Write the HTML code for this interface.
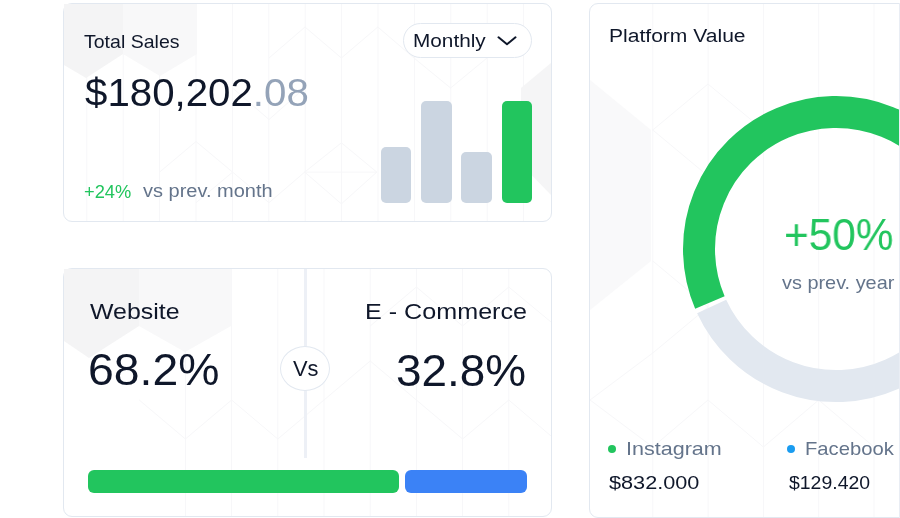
<!DOCTYPE html>
<html>
<head>
<meta charset="utf-8">
<style>
*{margin:0;padding:0;box-sizing:border-box;}
html,body{width:900px;height:518px;overflow:hidden;background:#fff;font-family:"Liberation Sans",sans-serif;color:#0f172a;}
.card{position:absolute;background:#fff;border:1px solid #e2e8f0;border-radius:9px;overflow:hidden;}
#c1{left:63px;top:3px;width:489px;height:219px;}
#c2{left:63px;top:268px;width:489px;height:249px;}
#c3{left:589px;top:3px;width:340px;height:515px;}
.t{position:absolute;white-space:nowrap;line-height:1;transform-origin:left top;will-change:transform;}
.a{position:absolute;}
#clip{position:absolute;left:0;top:0;width:898.5px;height:518px;overflow:hidden;}
</style>
</head>
<body>
<div id="clip">
<div class="card" id="c1"></div>
<div class="card" id="c2"></div>
<div class="card" id="c3"></div>

<!-- faint background pattern -->
<svg class="a" style="left:0;top:0" width="900" height="518" viewBox="0 0 900 518">
  <g fill="none" stroke="#f7f7f9" stroke-width="1">
<line x1="86.8" y1="4" x2="86.8" y2="221"/>
<line x1="123.2" y1="4" x2="123.2" y2="221"/>
<line x1="159.6" y1="4" x2="159.6" y2="221"/>
<line x1="196.0" y1="4" x2="196.0" y2="221"/>
<line x1="232.4" y1="4" x2="232.4" y2="221"/>
<line x1="268.8" y1="4" x2="268.8" y2="221"/>
<line x1="305.2" y1="4" x2="305.2" y2="221"/>
<line x1="341.6" y1="4" x2="341.6" y2="221"/>
<line x1="378.0" y1="4" x2="378.0" y2="221"/>
<line x1="414.4" y1="4" x2="414.4" y2="221"/>
<line x1="450.8" y1="4" x2="450.8" y2="221"/>
<line x1="487.2" y1="4" x2="487.2" y2="221"/>
<line x1="523.6" y1="4" x2="523.6" y2="221"/>
<polyline points="159.6,172.1 196.0,141.5 232.6,172.1 269.0,202.7 304.7,172.1"/>
<polyline points="232.6,172.1 196.0,202.7"/>
<polyline points="304.7,172.1 341.4,142.8 376.8,172.1 341.4,203.9 304.7,172.1 376.8,172.1"/>
<polyline points="232.6,88.0 269.0,119.5 304.7,88.0"/>
<polyline points="269.0,58.0 305.0,27.0 341.4,58.0 377.8,27.0 414.0,58.0"/>
<polyline points="414.0,58.0 450.6,88.0 487.0,58.0"/>
<line x1="185.4" y1="269" x2="185.4" y2="516"/>
<line x1="231.6" y1="269" x2="231.6" y2="516"/>
<line x1="277.8" y1="269" x2="277.8" y2="516"/>
<line x1="324.0" y1="269" x2="324.0" y2="516"/>
<line x1="370.2" y1="269" x2="370.2" y2="516"/>
<line x1="416.4" y1="269" x2="416.4" y2="516"/>
<line x1="462.6" y1="269" x2="462.6" y2="516"/>
<line x1="508.8" y1="269" x2="508.8" y2="516"/>
<polyline points="139.2,400.0 185.4,439.0 231.6,400.0 277.8,439.0 324.0,400.0"/>
<polyline points="370.2,326.0 416.4,287.0 462.6,326.0 508.8,287.0 551.0,322.0"/>
<polyline points="324.0,400.0 370.2,361.0 416.4,400.0 462.6,439.0 508.8,400.0 551.0,436.0"/>
<line x1="652.8" y1="4" x2="652.8" y2="517"/>
<line x1="708.1" y1="4" x2="708.1" y2="517"/>
<line x1="763.4" y1="4" x2="763.4" y2="517"/>
<line x1="818.7" y1="4" x2="818.7" y2="517"/>
<line x1="874.0" y1="4" x2="874.0" y2="517"/>
<polyline points="652.8,130.0 708.0,84.0 763.4,130.0 708.0,176.0 652.8,130.0"/>
<polyline points="652.8,261.0 708.0,307.0 652.8,353.0 590.0,400.0"/>
<polyline points="590.0,400.0 652.8,447.0 708.0,400.0 763.4,447.0 818.7,400.0 874.0,447.0"/>
</g>
  <!-- card1 -->
  <polygon points="64,4 123,4 123,54 86,78 64,65" fill="#f4f4f5"/>
  <polygon points="123,4 197,4 197,54 160,76 123,54" fill="#f8f8f9"/>
  <polygon points="551,63 521,88 521,164 551,195" fill="#f5f5f6"/>
  <!-- card2 -->
  <polygon points="64,269 139,269 139,326 89,358 64,341" fill="#f4f4f5"/>
  <polygon points="139,269 231,269 231,326 185,352 139,326" fill="#f8f8f9"/>
  <!-- card3 -->
  <polygon points="590,80 651,130 651,261 590,310" fill="#f9f9fa"/>
</svg>

<!-- card1 widgets -->
<div class="a" style="left:403px;top:23px;width:129px;height:35px;border:1px solid #e2e8f0;border-radius:17.5px;background:#fff;"></div>
<svg class="a" style="left:495px;top:33px" width="24" height="16" viewBox="0 0 24 16"><polyline points="3.5,4.3 12,11.3 20.5,4.3" fill="none" stroke="#0f172a" stroke-width="2" stroke-linecap="round" stroke-linejoin="round"/></svg>
<div class="a" style="left:380.5px;top:147px;width:30.5px;height:56px;background:#cbd5e1;border-radius:5px;"></div>
<div class="a" style="left:421px;top:101px;width:30.5px;height:102px;background:#cbd5e1;border-radius:5px;"></div>
<div class="a" style="left:461px;top:152px;width:30.5px;height:51px;background:#cbd5e1;border-radius:5px;"></div>
<div class="a" style="left:501.5px;top:101px;width:30.5px;height:102px;background:#22c55e;border-radius:5px;"></div>

<!-- card2 widgets -->
<div class="a" style="left:304px;top:269px;width:3px;height:189px;background:#edf0f6;"></div>
<div class="a" style="left:280px;top:346px;width:50px;height:45px;border:1px solid #e2e8f0;border-radius:50%;background:#fff;"></div>
<div class="a" style="left:88px;top:470px;width:310.5px;height:23px;background:#22c55e;border-radius:6px;"></div>
<div class="a" style="left:405px;top:470px;width:122px;height:23px;background:#3b82f6;border-radius:6px;"></div>

<!-- card3 widgets -->
<svg style="position:absolute;left:0;top:0" width="900" height="518" viewBox="0 0 900 518">
<path d="M 962.11 195.47 A 137 137 0 0 1 711.63 306.46" fill="none" stroke="#e2e8f0" stroke-width="32"/>
<path d="M 709.89 302.53 A 137 137 0 0 1 962.11 195.47" fill="none" stroke="#22c55e" stroke-width="32"/>
</svg>
<div class="a" style="left:608.3px;top:444.7px;width:8px;height:8px;border-radius:50%;background:#22c55e;"></div>
<div class="a" style="left:787px;top:444.8px;width:8px;height:8px;border-radius:50%;background:#1a9cf0;"></div>

<div class="t" style="left:83.56px;top:32.59px;font-size:18.2px;color:#0f172a;transform:scaleX(1.0735);">Total Sales</div>
<div class="t" style="left:85.07px;top:74.45px;font-size:38.1px;color:#0f172a;transform:scaleX(1.0568);">$180,202<span style="color:#94a3b8">.08</span></div>
<div class="t" style="left:83.55px;top:183.09px;font-size:18.2px;color:#22c55e;transform:scaleX(1.0055);">+24%</div>
<div class="t" style="left:142.7px;top:182.49px;font-size:18.8px;color:#64748b;transform:scaleX(1.0647);">vs prev. month</div>
<div class="t" style="left:412.99px;top:31.99px;font-size:18.2px;color:#0f172a;transform:scaleX(1.1419);">Monthly</div>
<div class="t" style="left:90.31px;top:301.22px;font-size:21.6px;color:#0f172a;transform:scaleX(1.1529);">Website</div>
<div class="t" style="left:88.26px;top:348.15px;font-size:44.6px;color:#0f172a;transform:scaleX(1.0387);">68.2%</div>
<div class="t" style="left:364.52px;top:301.15px;font-size:21.2px;color:#0f172a;transform:scaleX(1.1866);">E - Commerce</div>
<div class="t" style="left:395.69px;top:348.93px;font-size:44.5px;color:#0f172a;transform:scaleX(1.0317);">32.8%</div>
<div class="t" style="left:292.95px;top:359.2px;font-size:21.5px;color:#0f172a;transform:scaleX(1.0167);">Vs</div>
<div class="t" style="left:609.32px;top:26.89px;font-size:18.8px;color:#0f172a;transform:scaleX(1.1213);">Platform Value</div>
<div class="t" style="left:783.56px;top:212.51px;font-size:43.7px;color:#22c55e;transform:scaleX(0.9699);">+50%</div>
<div class="t" style="left:781.6px;top:273.32px;font-size:19px;color:#64748b;transform:scaleX(1.0467);">vs prev. year</div>
<div class="t" style="left:625.92px;top:439.12px;font-size:19px;color:#64748b;transform:scaleX(1.1337);">Instagram</div>
<div class="t" style="left:608.91px;top:473.87px;font-size:18.7px;color:#0f172a;transform:scaleX(1.1597);">$832.000</div>
<div class="t" style="left:804.8px;top:439.02px;font-size:19px;color:#64748b;transform:scaleX(1.0646);">Facebook</div>
<div class="t" style="left:788.64px;top:473.67px;font-size:18.7px;color:#0f172a;transform:scaleX(1.0403);">$129.420</div>
</div>
<div class="a" style="left:898.5px;top:3px;width:1.5px;height:515px;background:#e9edf4;"></div>
</body>
</html>
